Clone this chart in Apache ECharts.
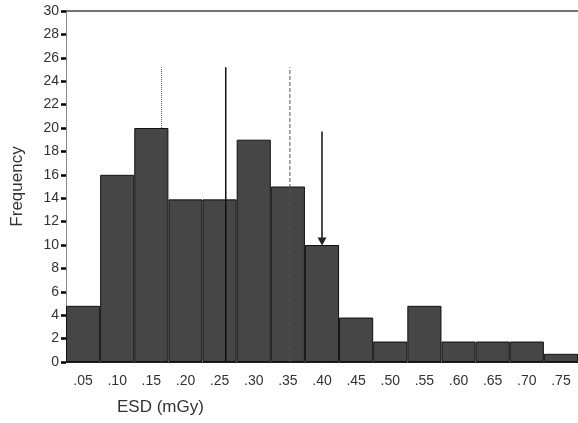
<!DOCTYPE html>
<html>
<head>
<meta charset="utf-8">
<script src="https://cdn.jsdelivr.net/npm/echarts@6/dist/echarts.min.js"></script>
<style>
	html, body { margin: 0; padding: 0; background: #fff; }
	#main { width: 578px; height: 423px; }
</style>
</head>
<body>
<div id="main"></div>
<script>
// histogram bins (bin centres) and frequencies
var categories = [ '.05', '.10', '.15', '.20', '.25', '.30', '.35', '.40', '.45', '.50', '.55', '.60', '.65', '.70', '.75' ];
var frequency = [ 4.8, 16.0, 20.0, 13.9, 13.9, 19.0, 15.0, 10.0, 3.8, 1.75, 4.8, 1.75, 1.75, 1.75, 0.7 ];

// reference lines: [ESD, bottom, top]
var dottedLine = [ 0.165, 0, 25.2 ];
var solidLine = [ 0.259, 0, 25.2 ];
var dashedLine = [ 0.353, 0, 25.2 ];
var arrowLine = [ 0.400, 10.3, 19.7 ];

(function() {
	var myChart = echarts.init(document.getElementById('main'));
	var font = 'Liberation Sans, Arial, sans-serif';

	function vline(d, type, arrow) {
		var pts = [ [ d[0], d[1] ], [ d[0], d[2] ] ];
		return {
			type : 'line',
			xAxisIndex : 1,
			yAxisIndex : 0,
			z : 5,
			silent : true,
			symbol : 'none',
			lineStyle : {
				color : type == 'solid' ? '#111' : '#555',
				width : type == 'solid' ? 1.5 : 1,
				type : type
			},
			data : arrow ? [ {
				value : pts[0],
				symbol : 'triangle',
				symbolSize : [ 9, 8 ],
				symbolRotate : 180,
				itemStyle : { color : '#222' }
			}, pts[1] ] : pts
		};
	}

	myChart.setOption({
		animation : false,
		grid : {
			left : 66,
			right : 0,
			top : 11,
			bottom : 61
		},
		xAxis : [ {
			type : 'category',
			data : categories,
			axisLine : {
				lineStyle : { color : '#222', width : 1 }
			},
			axisTick : {
				alignWithLabel : true,
				length : 4,
				lineStyle : { color : '#111', width : 3 }
			},
			axisLabel : {
				color : '#333',
				fontSize : 14,
				fontFamily : font,
				margin : 12
			}
		}, {
			type : 'value',
			position : 'top',
			min : 0.025,
			max : 0.775,
			axisLine : {
				show : true,
				lineStyle : { color : '#444', width : 1.5 }
			},
			axisTick : { show : false },
			axisLabel : { show : false },
			splitLine : { show : false }
		} ],
		yAxis : {
			type : 'value',
			min : 0,
			max : 30,
			interval : 2,
			name : 'Frequency',
			nameLocation : 'middle',
			nameGap : 40,
			nameTextStyle : {
				color : '#333',
				fontSize : 17,
				fontFamily : font
			},
			axisLine : {
				show : true,
				lineStyle : { color : '#888', width : 1 }
			},
			axisTick : {
				show : true,
				length : 5,
				lineStyle : { color : '#000', width : 2.5 }
			},
			axisLabel : {
				color : '#333',
				fontSize : 14,
				fontFamily : font,
				margin : 7
			},
			splitLine : { show : false }
		},
		graphic : [ {
			type : 'text',
			left : 117,
			top : 399,
			style : {
				text : 'ESD (mGy)',
				fill : '#333',
				font : '17px ' + font
			}
		} ],
		series : [ {
			type : 'bar',
			barCategoryGap : 0,
			itemStyle : {
				color : '#464646',
				borderColor : '#111',
				borderWidth : 1
			},
			data : frequency
		},
			vline(dottedLine, 'dotted'),
			vline(solidLine, 'solid'),
			vline(dashedLine, 'dashed'),
			vline(arrowLine, 'solid', true)
		]
	});
})();
</script>
</body>
</html>
